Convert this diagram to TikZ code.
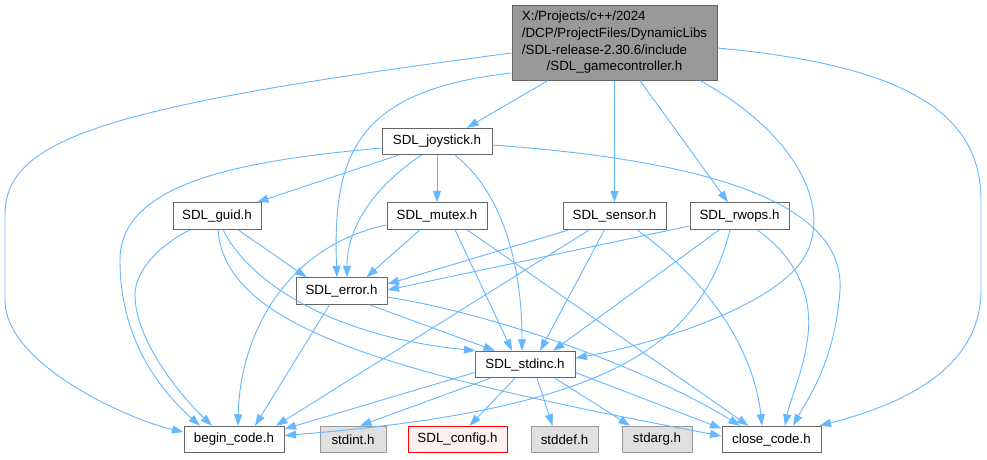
\documentclass[tikz,border=0pt]{standalone}
\usepackage{fontspec}
\setmainfont{Liberation Sans}
\usetikzlibrary{arrows.meta}
\definecolor{edgec}{HTML}{63B8FF}
\definecolor{bord}{HTML}{666666}
\definecolor{topfill}{HTML}{999999}
\definecolor{grayfill}{HTML}{E0E0E0}
\definecolor{graybord}{HTML}{999999}
\definecolor{cfgfill}{HTML}{FFF0F0}
\tikzset{
  nd/.style={draw=bord, fill=white, line width=1pt, inner sep=0pt, minimum height=26.5pt,
    font=\fontsize{13.33}{16.7}\selectfont, text=black},
  sysnd/.style={nd, draw=graybord, fill=grayfill},
  cfgnd/.style={nd, draw=red, fill=cfgfill},
  dep/.style={draw=edgec, line width=0.9pt, -{Triangle[length=11.5pt,width=8pt]}},
}
\begin{document}
\begin{tikzpicture}[x=1pt,y=-1pt]
\useasboundingbox[fill=white] (0,0) rectangle (987,459);
% nodes
\node[nd, fill=topfill, minimum width=205, minimum height=75] (top) at (614.5,42.5)
  {\begin{tabular}{@{}l@{}}X:/Projects/c++/2024\\/DCP/ProjectFiles/DynamicLibs\\/SDL-release-2.30.6/include\\\multicolumn{1}{@{}c@{}}{/SDL\_gamecontroller.h}\end{tabular}};
\node[nd, minimum width=110] (joy) at (437,141.5) {SDL\_joystick.h};
\node[nd, minimum width=88] (guid) at (217,216) {SDL\_guid.h};
\node[nd, minimum width=100] (mutex) at (437,216) {SDL\_mutex.h};
\node[nd, minimum width=103] (sensor) at (614.5,216) {SDL\_sensor.h};
\node[nd, minimum width=99] (rwops) at (739.5,216) {SDL\_rwops.h};
\node[nd, minimum width=91] (error) at (341.5,291) {SDL\_error.h};
\node[nd, minimum width=100] (stdinc) at (525,364.5) {SDL\_stdinc.h};
\node[nd, minimum width=100] (begin) at (234,439.5) {begin\_code.h};
\node[sysnd, minimum width=66] (stdint) at (353,439.5) {stdint.h};
\node[cfgnd, minimum width=99] (config) at (457.5,439.5) {SDL\_config.h};
\node[sysnd, minimum width=67] (stddef) at (564.5,439.5) {stddef.h};
\node[sysnd, minimum width=70] (stdarg) at (657,439.5) {stdarg.h};
\node[nd, minimum width=99] (close) at (771.5,439.5) {close\_code.h};
% edges from top
\draw[dep] ([yshift=-10.5]top.west) .. controls (106,106) and (5,138) .. (5,215) -- (5,300) .. controls (5,365) and (130,420) .. ([yshift=7.5]begin.west);
\draw[dep] ([yshift=-30.5]top.west) .. controls (360,90) and (332,150) .. ([xshift=-4.5]error.north);
\draw[dep] ([xshift=-66.5]top.south) -- ([xshift=30]joy.north);
\draw[dep] (top.south) -- (sensor.north);
\draw[dep] ([xshift=25.5]top.south) -- ([xshift=-11.5]rwops.north);
\draw[dep] ([xshift=85.5]top.south) .. controls (790,130) and (830,200) .. (808,250) .. controls (785,305) and (650,345) .. ([yshift=6.5]stdinc.east);
\draw[dep] ([yshift=-5.5]top.east) .. controls (900,65) and (981,110) .. (981,200) -- (981,290) .. controls (981,370) and (900,405) .. ([xshift=-2]close.north east);
% joystick
\draw[dep] ([yshift=-6.5]joy.west) .. controls (250,160) and (120,180) .. (120,260) .. controls (120,340) and (160,390) .. ([xshift=-34]begin.north);
\draw[dep] ([xshift=-39]joy.south) -- ([xshift=40]guid.north);
\draw[dep] ([xshift=-16]joy.south) .. controls (370,190) and (347,230) .. ([xshift=5.5]error.north);
\draw[dep] (joy.south) -- (mutex.north);
\draw[dep] ([xshift=18]joy.south) .. controls (500,190) and (522,260) .. ([xshift=-3]stdinc.north);
\draw[dep] ([yshift=-3.5]joy.east) .. controls (700,160) and (845,200) .. (840,290) .. controls (835,360) and (810,395) .. ([xshift=21.5]close.north);
% guid
\draw[dep] ([xshift=-27]guid.south) .. controls (160,245) and (135,270) .. (135,295) .. controls (135,340) and (180,395) .. ([xshift=-22]begin.north);
\draw[dep] ([xshift=21]guid.south) -- ([xshift=-35]error.north);
\draw[dep] ([xshift=6]guid.south) .. controls (245,275) and (320,335) .. ([xshift=1]stdinc.north west);
\draw[dep] ([xshift=1]guid.south) .. controls (225,330) and (400,375) .. ([yshift=3.5]close.west);
% mutex
\draw[dep] ([yshift=-9]mutex.west) .. controls (290,245) and (240,330) .. ([xshift=4]begin.north);
\draw[dep] ([xshift=-17]mutex.south) -- ([xshift=25]error.north);
\draw[dep] ([xshift=18]mutex.south) -- ([xshift=-13]stdinc.north);
\draw[dep] ([xshift=30]mutex.south) -- ([xshift=-23]close.north);
% sensor
\draw[dep] ([xshift=-25]sensor.south) -- ([xshift=42]begin.north);
\draw[dep] ([xshift=-45]sensor.south) -- ([yshift=7]error.east);
\draw[dep] ([xshift=-10]sensor.south) -- ([xshift=15]stdinc.north);
\draw[dep] ([xshift=22.5]sensor.south) .. controls (720,290) and (755,360) .. ([xshift=-9.5]close.north);
% rwops
\draw[dep] ([xshift=-9.5]rwops.south) .. controls (700,350) and (600,410) .. ([yshift=4]begin.east);
\draw[dep] ([yshift=-10]rwops.west) -- ([yshift=1]error.east);
\draw[dep] ([xshift=-20]rwops.south) -- ([xshift=28]stdinc.north);
\draw[dep] ([xshift=17.5]rwops.south) .. controls (800,260) and (812,300) .. (808,335) .. controls (804,370) and (790,400) .. ([xshift=13.5]close.north);
% error
\draw[dep] ([xshift=-12]error.south) -- ([xshift=21]begin.north);
\draw[dep] ([xshift=28]error.south) -- ([xshift=-30]stdinc.north);
\draw[dep] ([yshift=-6]error.east) .. controls (500,315) and (650,370) .. ([xshift=-31.5]close.north);
% stdinc
\draw[dep] ([yshift=-8]stdinc.west) -- ([yshift=10.5]begin.east);
\draw[dep] ([xshift=-35]stdinc.south) -- ([xshift=7]stdint.north);
\draw[dep] ([xshift=-10]stdinc.south) -- ([xshift=12]config.north);
\draw[dep] ([xshift=12]stdinc.south) -- ([xshift=-12]stddef.north);
\draw[dep] ([xshift=30]stdinc.south) -- ([xshift=-27]stdarg.north);
\draw[dep] ([yshift=-8]stdinc.east) -- ([yshift=11]close.west);
\end{tikzpicture}
\end{document}
